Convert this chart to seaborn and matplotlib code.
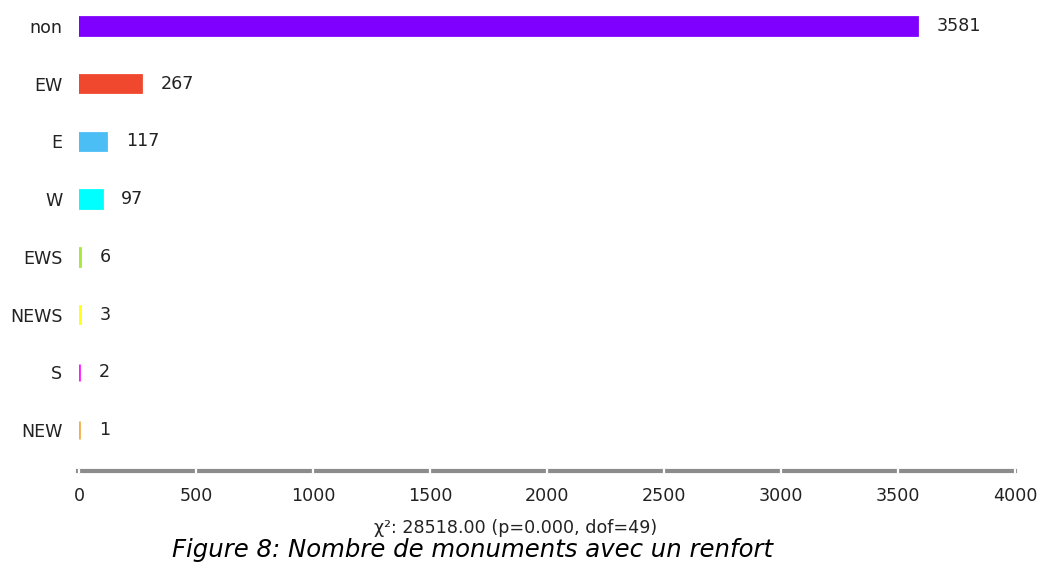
import matplotlib
matplotlib.use("Agg")
import matplotlib.pyplot as plt
import seaborn as sns
import pandas as pd

categories = ["non", "EW", "E", "W", "EWS", "NEWS", "S", "NEW"]
counts = [3581, 267, 117, 97, 6, 3, 2, 1]
colors = ["#7F00FF", "#F0482F", "#4CBEF6", "#00FFFF", "#A8E83A", "#FFFF1A", "#FF19FF", "#F4AF48"]
xticks = [0, 500, 1000, 1500, 2000, 2500, 3000, 3500, 4000]
stat_text = "χ²: 28518.00 (p=0.000, dof=49)"
caption = "Figure 8: Nombre de monuments avec un renfort"

sns.set_theme(style="white")
plt.rcParams["font.family"] = ["DejaVu Sans"]

FS = 12.6

df = pd.DataFrame({"cat": categories, "n": counts})

fig = plt.figure(figsize=(10.42, 5.63), dpi=100)
ax = fig.add_axes([79 / 1042, 1 - 471 / 563, 936 / 1042, 471 / 563])

sns.barplot(data=df, y="cat", x="n", hue="cat", palette=colors, legend=False,
            orient="h", width=0.3, ax=ax, linewidth=2, saturation=1)
for cont, c in zip(ax.containers, colors):
    for patch in cont:
        patch.set_facecolor(c)
        patch.set_edgecolor(c)
        patch.set_linewidth(2)

for cont in ax.containers:
    ax.bar_label(cont, padding=14, fontsize=FS, color="#222222")

ax.set_xlim(0, 4000)
ax.set_ylim(7.71, -0.45)
ax.set_xticks(xticks)
ax.set_xticklabels([str(t) for t in xticks], fontsize=FS, color="#222222")
ax.tick_params(axis="y", labelsize=FS, colors="#222222", left=False, length=0, pad=12)
ax.tick_params(axis="x", bottom=True, length=3, width=1.6, color="white",
               direction="inout", pad=10)
ax.set_xlabel("")
ax.set_ylabel("")
for s in ["top", "right", "left"]:
    ax.spines[s].set_visible(False)
ax.spines["bottom"].set_color("#8c8c8c")
ax.spines["bottom"].set_linewidth(3)
ax.spines["bottom"].set_bounds(-5, 4000)
ax.spines["bottom"].set_zorder(0.3)
ax.set_facecolor("white")

fig.text(516 / 1042, 1 - 528 / 563, stat_text, fontsize=FS, ha="center", va="center",
         color="#222222")
fig.text(472 / 1042, 1 - 550 / 563, caption, fontsize=17.6, style="italic",
         ha="center", va="center", color="black")

fig.savefig("out.png", dpi=100, facecolor="white")
